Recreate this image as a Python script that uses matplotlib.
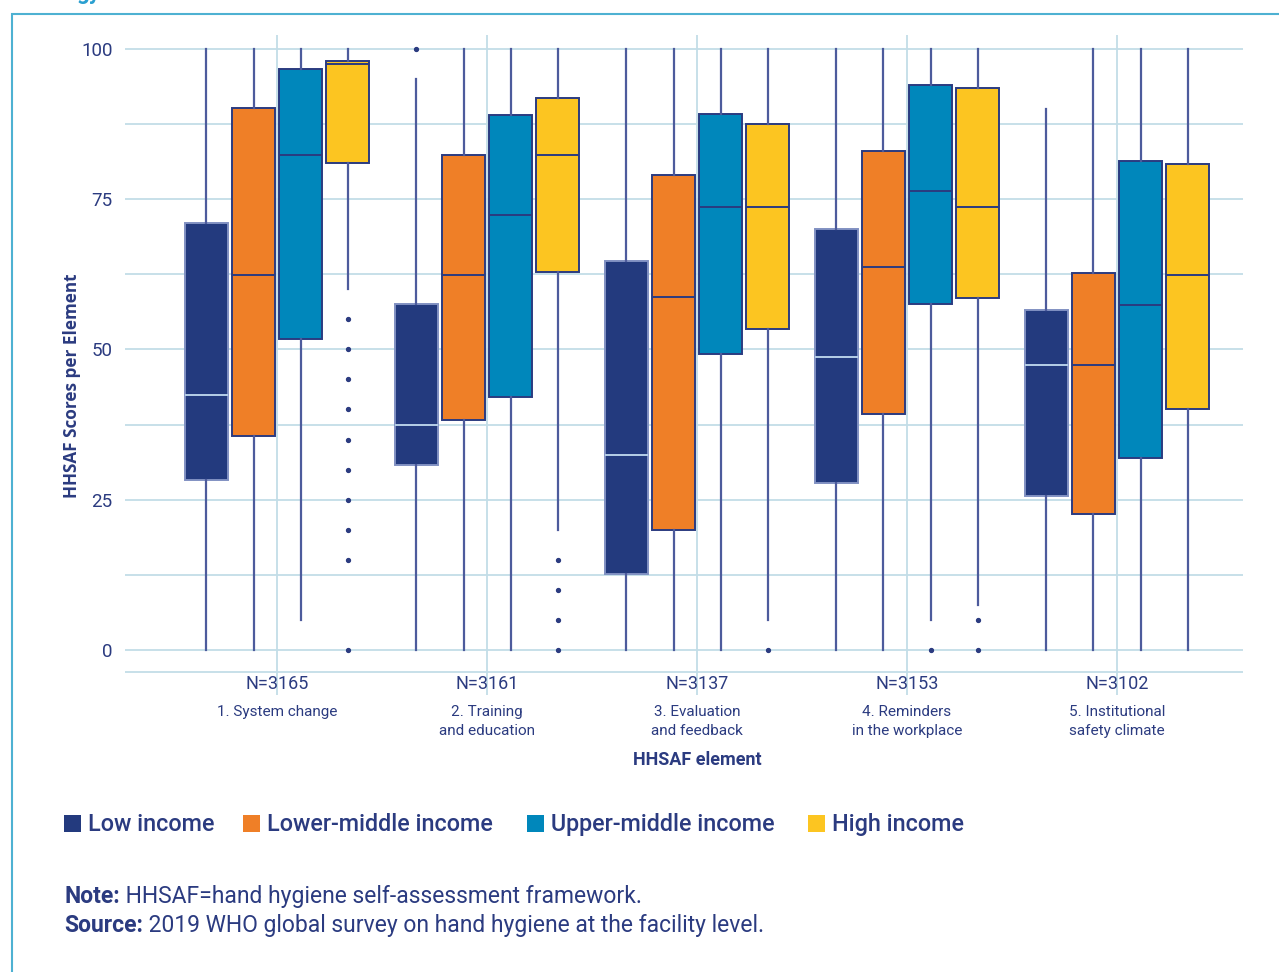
import matplotlib.pyplot as plt
import matplotlib.patches as mpatches

plt.rcParams['font.family'] = ['Roboto', 'DejaVu Sans']

groups = ['1. System change', '2. Training\nand education', '3. Evaluation\nand feedback',
          '4. Reminders\nin the workplace', '5. Institutional\nsafety climate']
n_labels = ['N=3165', 'N=3161', 'N=3137', 'N=3153', 'N=3102']
income = ['Low income', 'Lower-middle income', 'Upper-middle income', 'High income']
colors = ['#233a7e', '#ef7f27', '#0087bb', '#fcc521']

# per group, per income level: (whislo, q1, med, q3, whishi)
low_stats = [(0, 28.3, 42.4, 71.0, 100), (0, 30.8, 37.4, 57.6, 95), (0, 12.6, 32.4, 64.7, 100),
             (0, 27.8, 48.8, 70.0, 100), (0, 25.6, 47.4, 56.6, 90)]
lowmid_stats = [(0, 35.6, 62.4, 90.2, 100), (0, 38.3, 62.4, 82.4, 100), (0, 20.0, 58.7, 79.0, 100),
                (0, 39.3, 63.7, 83.0, 100), (0, 22.6, 47.4, 62.7, 100)]
upmid_stats = [(5, 51.7, 82.4, 96.7, 100), (0, 42.1, 72.4, 89.0, 100), (0, 49.3, 73.7, 89.2, 100),
               (5, 57.6, 76.4, 94.0, 100), (0, 31.9, 57.4, 81.4, 100)]
high_stats = [(60, 81.0, 97.5, 98.0, 100), (20, 62.9, 82.4, 91.8, 100), (5, 53.4, 73.7, 87.5, 100),
              (7.5, 58.6, 73.7, 93.5, 100), (0, 40.1, 62.4, 80.9, 100)]
low_fliers = [[], [100], [], [], []]
lowmid_fliers = [[], [], [], [], []]
upmid_fliers = [[], [], [], [0], []]
high_fliers = [[55, 50, 45, 40, 35, 30, 25, 20, 15, 0], [15, 10, 5, 0], [0], [5, 0], []]

all_stats = [low_stats, lowmid_stats, upmid_stats, high_stats]
all_fliers = [low_fliers, lowmid_fliers, upmid_fliers, high_fliers]

navy = '#2b3b80'
grid_c = '#c3dde7'

fig = plt.figure(figsize=(12.79, 9.72), dpi=100)
ax = fig.add_axes([125 / 1279, 1 - 695 / 972, (1243 - 125) / 1279, (695 - 35) / 972])

for y in [0, 12.5, 25, 37.5, 50, 62.5, 75, 87.5, 100, -3.66]:
    ax.axhline(y, color=grid_c, lw=1.3, zorder=0)
for i in range(len(groups)):
    ax.axvline(i, color=grid_c, lw=1.3, zorder=0)

offsets = [-0.336, -0.112, 0.112, 0.336]
for k in range(4):
    stats = []
    for i in range(5):
        lo, q1, med, q3, hi = all_stats[k][i]
        stats.append(dict(whislo=lo, q1=q1, med=med, q3=q3, whishi=hi, fliers=all_fliers[k][i]))
    pos = [i + offsets[k] for i in range(5)]
    edge = '#8191c2' if k == 0 else navy
    med_c = '#b7d0e8' if k == 0 else navy
    ax.bxp(stats, positions=pos, widths=0.205, patch_artist=True, showcaps=False,
           boxprops=dict(facecolor=colors[k], edgecolor=edge, linewidth=1.4),
           medianprops=dict(color=med_c, linewidth=1.4),
           whiskerprops=dict(color='#4d5b9c', linewidth=1.6),
           flierprops=dict(marker='o', markersize=2.8, markerfacecolor=navy,
                           markeredgecolor=navy), zorder=2)

ax.set_xlim(-0.724, 4.6)
ax.set_ylim(-7.5, 102.3)
ax.set_xticks([])
ax.set_yticks([0, 25, 50, 75, 100])
ax.tick_params(axis='y', length=0, pad=9, labelsize=13.5, labelcolor=navy)
for s in ax.spines.values():
    s.set_visible(False)

for i in range(5):
    ax.text(i, -5.66, n_labels[i], ha='center', va='center', fontsize=13, color=navy)
    ax.text(i, -9.1, groups[i], ha='center', va='top', fontsize=11, color=navy, linespacing=1.45)
ax.text(2, -18.3, 'HHSAF element', ha='center', va='center', fontsize=13, fontweight='bold', color=navy)

fig.text(72 / 1279, 1 - 386 / 972, 'HHSAF Scores per Element', rotation=90, ha='center', va='center',
         fontsize=12.3, fontweight='bold', color=navy, family=['Open Sans', 'DejaVu Sans'])

# legend
leg_x = [64, 243, 527, 808]
for k in range(4):
    fig.patches.append(mpatches.Rectangle((leg_x[k] / 1279, 1 - 832 / 972), 17 / 1279, 17 / 972,
                                          transform=fig.transFigure, facecolor=colors[k], edgecolor='none'))
    fig.text((leg_x[k] + 24) / 1279, 1 - 824 / 972, income[k], ha='left', va='center',
             fontsize=16.8, fontweight='medium', color=navy)

# note / source
t1 = fig.text(64 / 1279, 1 - 896 / 972, 'Note:', ha='left', va='center', fontsize=16.5,
              fontweight='bold', color=navy)
ax.annotate(' HHSAF=hand hygiene self-assessment framework.', xy=(1, 0), xycoords=t1,
            ha='left', va='bottom', fontsize=16.5, color=navy, annotation_clip=False)
t2 = fig.text(64 / 1279, 1 - 925 / 972, 'Source:', ha='left', va='center', fontsize=16.5,
              fontweight='bold', color=navy)
ax.annotate(' 2019 WHO global survey on hand hygiene at the facility level.', xy=(1, 0), xycoords=t2,
            ha='left', va='bottom', fontsize=16.5, color=navy, annotation_clip=False)

# page frame
fig.patches.append(mpatches.Rectangle((12 / 1279, -0.1), 1.2, 1.1 - 14 / 972, transform=fig.transFigure,
                                      fill=False, edgecolor='#4eb1d2', linewidth=1.5))
fig.text(76 / 1279, 1 + 1 / 972, 'gy', ha='left', va='baseline', fontsize=16, fontweight='bold',
         color='#2a9fd0')

fig.savefig('out.png', dpi=100)
